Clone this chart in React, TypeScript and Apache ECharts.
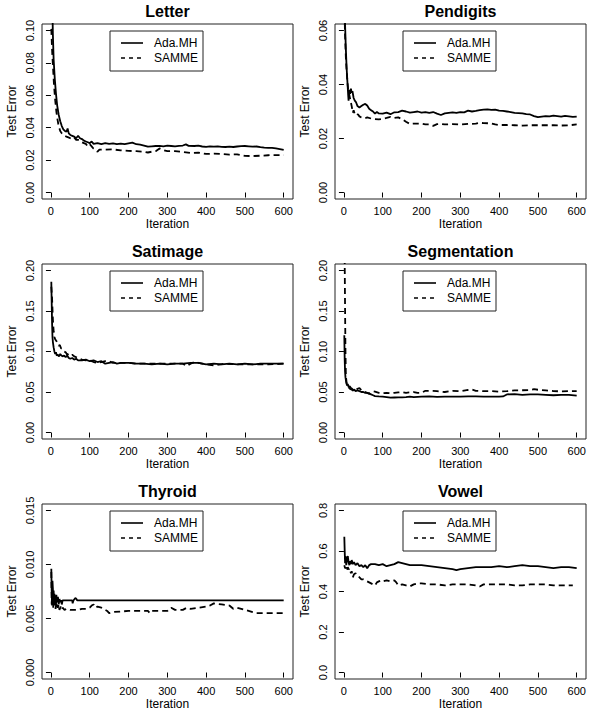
import React, { useEffect, useRef } from "react";
import * as echarts from "echarts";

// ---------- tick values ----------
const iterationTicks = [0, 100, 200, 300, 400, 500, 600];
const letterTicks = [0, 0.02, 0.04, 0.06, 0.08, 0.1];
const pendigitsTicks = [0, 0.02, 0.04, 0.06];
const satimageTicks = [0, 0.05, 0.1, 0.15, 0.2];
const segmentationTicks = [0, 0.05, 0.1, 0.15, 0.2];
const thyroidTicks = [0, 0.005, 0.01, 0.015];
const vowelTicks = [0, 0.2, 0.4, 0.6, 0.8];

const seriesNames = ["Ada.MH", "SAMME"];
const panelTitles = ["Letter", "Pendigits", "Satimage", "Segmentation", "Thyroid", "Vowel"];

// ---------- data: [iteration, test error] ----------
const letterAda: [number, number][] = [
  [1, 0.165], [3, 0.125], [5, 0.098], [7, 0.082], [10, 0.07], [13, 0.061], [16, 0.054], [20, 0.048],
  [24, 0.044], [28, 0.041], [32, 0.039], [36, 0.038], [40, 0.0375], [43, 0.0395], [46, 0.0365], [50, 0.0355],
  [55, 0.035], [60, 0.0345], [65, 0.0335], [70, 0.035], [75, 0.0335], [80, 0.033], [85, 0.032], [90, 0.0315],
  [95, 0.031], [100, 0.0305], [105, 0.0315], [110, 0.03], [120, 0.0305], [130, 0.0298], [140, 0.0305],
  [150, 0.03], [160, 0.0303], [170, 0.0298], [180, 0.0302], [190, 0.0298], [200, 0.0303], [210, 0.0308],
  [220, 0.0298], [230, 0.0295], [240, 0.029], [250, 0.0283], [260, 0.0285], [270, 0.0287], [280, 0.0288],
  [290, 0.0285], [300, 0.0289], [310, 0.0287], [320, 0.0285], [330, 0.0288], [340, 0.029], [348, 0.0297],
  [355, 0.0288], [370, 0.0287], [380, 0.0289], [390, 0.0284], [400, 0.0282], [410, 0.0285], [420, 0.0283],
  [430, 0.0285], [440, 0.0282], [450, 0.0281], [460, 0.0283], [470, 0.0281], [480, 0.0284], [490, 0.0286],
  [500, 0.0287], [510, 0.0285], [520, 0.0283], [530, 0.0284], [540, 0.028], [550, 0.0277], [560, 0.0275],
  [570, 0.0276], [580, 0.0272], [590, 0.0268], [600, 0.0263],
];
const letterSamme: [number, number][] = [
  [1, 0.101], [3, 0.088], [5, 0.079], [8, 0.066], [11, 0.057], [14, 0.05], [17, 0.045], [20, 0.041],
  [24, 0.038], [28, 0.0365], [32, 0.0355], [36, 0.035], [40, 0.0345], [45, 0.034], [50, 0.0335], [55, 0.033],
  [60, 0.034], [65, 0.0325], [70, 0.0325], [75, 0.032], [80, 0.031], [85, 0.0305], [90, 0.03], [95, 0.0285],
  [100, 0.0298], [105, 0.0285], [110, 0.027], [115, 0.0262], [120, 0.0252], [125, 0.0265], [140, 0.0265],
  [160, 0.0266], [180, 0.026], [200, 0.0257], [220, 0.0255], [240, 0.0252], [250, 0.0247], [260, 0.0252],
  [270, 0.0255], [280, 0.0272], [290, 0.0262], [300, 0.0255], [320, 0.0256], [340, 0.025], [360, 0.0244],
  [380, 0.0246], [400, 0.0238], [420, 0.024], [440, 0.0238], [460, 0.0234], [480, 0.0236], [500, 0.0226],
  [520, 0.0225], [540, 0.0227], [560, 0.023], [580, 0.0231], [600, 0.0231],
];

const pendigitsAda: [number, number][] = [
  [1, 0.075], [3, 0.062], [5, 0.053], [7, 0.046], [9, 0.041], [11, 0.036], [12, 0.034], [14, 0.038],
  [16, 0.0365], [18, 0.0385], [20, 0.037], [22, 0.0375], [25, 0.035], [28, 0.034], [31, 0.0335], [35, 0.032],
  [40, 0.0315], [45, 0.032], [50, 0.0325], [55, 0.0328], [60, 0.0322], [65, 0.031], [70, 0.0305], [75, 0.03],
  [80, 0.0292], [85, 0.0298], [90, 0.0293], [100, 0.0292], [110, 0.0296], [120, 0.029], [130, 0.0297],
  [140, 0.0298], [150, 0.0303], [160, 0.03], [170, 0.0296], [180, 0.0298], [190, 0.03], [200, 0.0296],
  [210, 0.0298], [220, 0.0295], [230, 0.0298], [240, 0.0292], [250, 0.0287], [260, 0.0293], [270, 0.0295],
  [280, 0.0297], [290, 0.0295], [300, 0.0298], [310, 0.0297], [320, 0.0303], [330, 0.03], [340, 0.0302],
  [350, 0.0305], [360, 0.0307], [370, 0.0308], [380, 0.0306], [390, 0.0307], [400, 0.0303], [410, 0.0302],
  [420, 0.03], [430, 0.0298], [440, 0.0295], [450, 0.0294], [460, 0.0293], [470, 0.029], [480, 0.0289],
  [490, 0.0283], [500, 0.0279], [510, 0.0281], [520, 0.0283], [530, 0.0282], [540, 0.0285], [550, 0.0283],
  [560, 0.0281], [570, 0.0284], [580, 0.0282], [590, 0.028], [600, 0.0281],
];
const pendigitsSamme: [number, number][] = [
  [1, 0.07], [3, 0.058], [5, 0.05], [7, 0.045], [9, 0.041], [11, 0.038], [14, 0.036], [17, 0.034],
  [20, 0.032], [23, 0.0295], [25, 0.0305], [28, 0.029], [32, 0.0285], [36, 0.029], [40, 0.0282], [45, 0.0278],
  [50, 0.0276], [55, 0.0275], [60, 0.0278], [70, 0.0274], [80, 0.0272], [90, 0.0271], [100, 0.0273],
  [110, 0.0276], [120, 0.028], [130, 0.0276], [140, 0.0278], [150, 0.0272], [160, 0.0262], [170, 0.0254],
  [180, 0.0255], [190, 0.0255], [200, 0.0255], [210, 0.0252], [220, 0.0252], [230, 0.0247], [240, 0.0253],
  [250, 0.0254], [260, 0.0252], [280, 0.0253], [300, 0.0252], [320, 0.0254], [340, 0.0255], [350, 0.0258],
  [360, 0.0257], [380, 0.0256], [390, 0.0252], [400, 0.025], [420, 0.025], [440, 0.0249], [460, 0.0248],
  [480, 0.0249], [500, 0.0249], [520, 0.0249], [540, 0.0249], [560, 0.0248], [580, 0.0249], [600, 0.0252],
];

const satimageAda: [number, number][] = [
  [1, 0.186], [2, 0.16], [3, 0.135], [4, 0.118], [5, 0.112], [7, 0.105], [9, 0.1], [11, 0.097], [13, 0.099],
  [15, 0.095], [18, 0.096], [21, 0.094], [24, 0.097], [27, 0.095], [30, 0.094], [34, 0.095], [38, 0.093],
  [42, 0.095], [46, 0.092], [50, 0.091], [55, 0.092], [60, 0.09], [65, 0.091], [70, 0.089], [80, 0.089],
  [90, 0.09], [100, 0.088], [110, 0.089], [120, 0.087], [130, 0.088], [140, 0.085], [150, 0.086],
  [160, 0.087], [170, 0.085], [180, 0.086], [200, 0.086], [220, 0.085], [240, 0.085], [260, 0.084],
  [280, 0.085], [300, 0.084], [320, 0.085], [340, 0.085], [360, 0.086], [380, 0.086], [400, 0.084],
  [420, 0.085], [440, 0.084], [460, 0.085], [480, 0.084], [500, 0.085], [520, 0.084], [540, 0.085],
  [560, 0.085], [580, 0.085], [600, 0.085],
];
const satimageSamme: [number, number][] = [
  [1, 0.18], [3, 0.165], [5, 0.14], [7, 0.125], [9, 0.118], [11, 0.115], [14, 0.113], [17, 0.11],
  [20, 0.107], [23, 0.108], [26, 0.104], [30, 0.103], [34, 0.1], [38, 0.099], [42, 0.096], [46, 0.097],
  [50, 0.095], [55, 0.096], [60, 0.094], [70, 0.092], [80, 0.09], [90, 0.089], [100, 0.089], [110, 0.087],
  [120, 0.086], [130, 0.087], [140, 0.088], [150, 0.088], [160, 0.086], [180, 0.086], [200, 0.086],
  [220, 0.085], [250, 0.085], [280, 0.085], [300, 0.085], [320, 0.085], [340, 0.085], [350, 0.082],
  [360, 0.085], [370, 0.087], [380, 0.086], [400, 0.084], [420, 0.083], [450, 0.085], [480, 0.084],
  [500, 0.084], [530, 0.084], [560, 0.084], [600, 0.085],
];

const segmentationAda: [number, number][] = [
  [1, 0.12], [2, 0.09], [3, 0.075], [4, 0.068], [6, 0.062], [8, 0.058], [10, 0.06], [12, 0.056],
  [15, 0.057], [18, 0.055], [21, 0.054], [24, 0.052], [27, 0.053], [30, 0.051], [35, 0.052], [40, 0.051],
  [45, 0.05], [50, 0.05], [55, 0.049], [60, 0.049], [65, 0.048], [70, 0.047], [75, 0.046], [80, 0.045],
  [90, 0.0445], [100, 0.0442], [110, 0.0438], [120, 0.043], [130, 0.0432], [140, 0.0433], [150, 0.0435],
  [160, 0.0438], [170, 0.0442], [180, 0.0438], [190, 0.044], [200, 0.0442], [220, 0.0445], [240, 0.044],
  [260, 0.0442], [280, 0.0443], [300, 0.0443], [320, 0.0446], [340, 0.0445], [360, 0.0443], [380, 0.0442],
  [400, 0.0443], [410, 0.0445], [420, 0.047], [440, 0.0475], [460, 0.0465], [480, 0.047], [500, 0.047],
  [520, 0.0465], [540, 0.046], [560, 0.0465], [580, 0.0465], [600, 0.0455],
];
const segmentationSamme: [number, number][] = [
  [1, 0.24], [2, 0.21], [3, 0.15], [4, 0.1], [5, 0.07], [7, 0.061], [9, 0.057], [12, 0.056], [15, 0.054],
  [20, 0.053], [25, 0.051], [30, 0.052], [35, 0.054], [40, 0.055], [45, 0.052], [50, 0.051], [55, 0.05],
  [60, 0.049], [65, 0.048], [70, 0.0495], [75, 0.051], [80, 0.0505], [90, 0.049], [100, 0.0485],
  [110, 0.049], [120, 0.0485], [130, 0.049], [140, 0.0495], [150, 0.05], [160, 0.049], [170, 0.0495],
  [180, 0.05], [190, 0.049], [200, 0.049], [210, 0.0515], [220, 0.0515], [240, 0.051], [260, 0.05],
  [280, 0.0515], [300, 0.051], [320, 0.0525], [330, 0.053], [340, 0.0515], [360, 0.051], [380, 0.0512],
  [400, 0.0505], [420, 0.051], [440, 0.052], [460, 0.0522], [480, 0.0525], [490, 0.0535], [500, 0.0528],
  [520, 0.052], [540, 0.0512], [560, 0.0508], [580, 0.051], [600, 0.0512],
];

const thyroidAda: [number, number][] = [
  [1, 0.0096], [2, 0.0075], [3, 0.0062], [4, 0.0085], [5, 0.0078], [6, 0.0062], [7, 0.0076], [8, 0.0065],
  [9, 0.0073], [10, 0.0062], [11, 0.0071], [12, 0.0067], [13, 0.0062], [14, 0.0072], [15, 0.0067],
  [16, 0.0065], [18, 0.007], [20, 0.0063], [22, 0.0068], [24, 0.0065], [26, 0.0067], [28, 0.0063],
  [30, 0.00667], [55, 0.00667], [56, 0.0064], [58, 0.00667], [63, 0.0069], [66, 0.0068], [68, 0.00667],
  [600, 0.00667],
];
const thyroidSamme: [number, number][] = [
  [1, 0.0093], [2, 0.0063], [3, 0.008], [4, 0.0065], [5, 0.0074], [6, 0.006], [7, 0.0069], [8, 0.0062],
  [10, 0.0066], [12, 0.0059], [14, 0.0065], [16, 0.0062], [18, 0.006], [20, 0.0063], [22, 0.0058],
  [25, 0.0061], [28, 0.0058], [30, 0.006], [35, 0.0058], [40, 0.0059], [50, 0.0058], [60, 0.0058],
  [70, 0.0058], [80, 0.0059], [90, 0.0059], [100, 0.006], [105, 0.0062], [110, 0.0063], [115, 0.006],
  [120, 0.0061], [130, 0.006], [140, 0.0058], [145, 0.0057], [150, 0.0055], [160, 0.0056], [200, 0.0057],
  [250, 0.0057], [255, 0.0055], [260, 0.0057], [300, 0.0057], [310, 0.006], [320, 0.0058], [340, 0.0058],
  [350, 0.006], [360, 0.0059], [400, 0.0061], [410, 0.0062], [420, 0.0064], [440, 0.0063], [460, 0.0062],
  [470, 0.0059], [480, 0.006], [500, 0.0058], [520, 0.0056], [530, 0.0055], [600, 0.0055],
];

const vowelAda: [number, number][] = [
  [1, 0.67], [2, 0.6], [3, 0.54], [4, 0.575], [5, 0.56], [6, 0.53], [8, 0.56], [10, 0.575], [12, 0.545],
  [14, 0.53], [16, 0.55], [18, 0.535], [20, 0.555], [23, 0.535], [26, 0.545], [30, 0.53], [35, 0.54],
  [40, 0.525], [45, 0.53], [50, 0.52], [55, 0.53], [60, 0.515], [65, 0.53], [70, 0.535], [80, 0.535],
  [90, 0.53], [100, 0.535], [110, 0.525], [120, 0.53], [130, 0.535], [140, 0.545], [150, 0.54],
  [160, 0.535], [170, 0.53], [180, 0.53], [200, 0.53], [220, 0.525], [240, 0.52], [260, 0.515],
  [280, 0.51], [290, 0.505], [300, 0.51], [320, 0.515], [340, 0.52], [360, 0.52], [380, 0.52],
  [400, 0.525], [420, 0.52], [440, 0.525], [460, 0.53], [480, 0.525], [500, 0.525], [520, 0.52],
  [540, 0.515], [560, 0.52], [580, 0.52], [600, 0.515],
];
const vowelSamme: [number, number][] = [
  [1, 0.53], [3, 0.515], [5, 0.52], [8, 0.5], [10, 0.52], [12, 0.51], [15, 0.515], [18, 0.49], [20, 0.5],
  [23, 0.47], [26, 0.485], [30, 0.49], [35, 0.475], [40, 0.47], [45, 0.46], [50, 0.46], [55, 0.455],
  [60, 0.45], [65, 0.445], [70, 0.44], [75, 0.435], [80, 0.43], [85, 0.445], [90, 0.45], [95, 0.455],
  [100, 0.45], [110, 0.455], [120, 0.45], [130, 0.455], [135, 0.445], [140, 0.43], [150, 0.435],
  [160, 0.43], [170, 0.425], [180, 0.435], [190, 0.44], [200, 0.44], [220, 0.435], [240, 0.435],
  [260, 0.43], [280, 0.435], [300, 0.435], [320, 0.435], [340, 0.43], [350, 0.425], [360, 0.435],
  [380, 0.435], [400, 0.435], [420, 0.435], [440, 0.43], [460, 0.43], [480, 0.435], [500, 0.435],
  [520, 0.435], [540, 0.43], [560, 0.43], [580, 0.43], [590, 0.43],
];

// ---------- panel assembly ----------
const adaData = [letterAda, pendigitsAda, satimageAda, segmentationAda, thyroidAda, vowelAda];
const sammeData = [letterSamme, pendigitsSamme, satimageSamme, segmentationSamme, thyroidSamme, vowelSamme];
const yTickSets = [letterTicks, pendigitsTicks, satimageTicks, segmentationTicks, thyroidTicks, vowelTicks];
const yDecimals = [2, 2, 2, 2, 3, 1];

// layout (pixels)
const GRID_LEFTS = [42, 335];
const GRID_TOPS = [24, 264, 504];
const GRID_W = 251;
const GRID_H = 175;
const FONT = '"Liberation Sans", Arial, Helvetica, sans-serif';
const INK = "#000";

function buildOption() {
  const grid: any[] = [];
  const xAxis: any[] = [];
  const yAxis: any[] = [];
  const series: any[] = [];
  const graphic: any[] = [];

  panelTitles.forEach((title, i) => {
    const gx = GRID_LEFTS[i % 2];
    const gy = GRID_TOPS[Math.floor(i / 2)];
    const ticks = yTickSets[i];
    const top = ticks[ticks.length - 1];
    const ext = top * 0.04;
    const dec = yDecimals[i];

    grid.push({
      left: gx,
      top: gy,
      width: GRID_W,
      height: GRID_H,
      show: true,
      borderColor: "#222",
      borderWidth: 1,
      backgroundColor: "transparent",
      containLabel: false,
      outerBoundsMode: "none",
    });

    xAxis.push({
      type: "value",
      gridIndex: i,
      min: -23,
      max: 624,
      axisLine: { show: false },
      axisTick: {
        show: true,
        length: 5,
        inside: false,
        customValues: iterationTicks,
        lineStyle: { color: INK, width: 1 },
      },
      axisLabel: {
        show: true,
        customValues: iterationTicks,
        fontSize: 11,
        fontFamily: FONT,
        color: INK,
        margin: 6,
        formatter: (v: number) => String(v),
      },
      splitLine: { show: false },
      name: "Iteration",
      nameLocation: "middle",
      nameGap: 19,
      nameTextStyle: { fontSize: 12, fontFamily: FONT, color: INK },
    });

    yAxis.push({
      type: "value",
      gridIndex: i,
      min: -ext,
      max: top + ext,
      axisLine: { show: false },
      axisTick: {
        show: true,
        length: 5,
        inside: false,
        customValues: ticks,
        lineStyle: { color: INK, width: 1 },
      },
      axisLabel: {
        show: true,
        customValues: ticks,
        rotate: 90,
        fontSize: 11,
        fontFamily: FONT,
        color: INK,
        margin: 7,
        formatter: (v: number) => v.toFixed(dec),
      },
      splitLine: { show: false },
      name: "Test Error",
      nameLocation: "middle",
      nameGap: 24,
      nameTextStyle: { fontSize: 12, fontFamily: FONT, color: INK },
    });

    series.push({
      type: "line",
      name: seriesNames[0],
      xAxisIndex: i,
      yAxisIndex: i,
      data: adaData[i],
      symbol: "none",
      showSymbol: false,
      clip: true,
      silent: true,
      lineStyle: { color: INK, width: 1.8, type: "solid" },
      itemStyle: { color: INK },
    });
    series.push({
      type: "line",
      name: seriesNames[1],
      xAxisIndex: i,
      yAxisIndex: i,
      data: sammeData[i],
      symbol: "none",
      showSymbol: false,
      clip: true,
      silent: true,
      lineStyle: { color: INK, width: 1.8, type: [6, 4] },
      itemStyle: { color: INK },
    });

    // panel title
    graphic.push({
      type: "text",
      x: gx + GRID_W / 2,
      y: gy - 13,
      style: {
        text: title,
        font: `bold 16px ${FONT}`,
        fill: INK,
        textAlign: "center",
        textVerticalAlign: "middle",
        align: "center",
        verticalAlign: "middle",
      },
    });

    // legend box
    graphic.push({
      type: "group",
      x: gx + 68,
      y: gy + 7,
      children: [
        {
          type: "rect",
          shape: { x: 0, y: 0, width: 93, height: 40 },
          style: { fill: "#fff", stroke: "#222", lineWidth: 1 },
        },
        {
          type: "line",
          shape: { x1: 11, y1: 12, x2: 33, y2: 12 },
          style: { stroke: INK, lineWidth: 1.6 },
        },
        {
          type: "line",
          shape: { x1: 11, y1: 27, x2: 33, y2: 27 },
          style: { stroke: INK, lineWidth: 1.6, lineDash: [4, 4] },
        },
        {
          type: "text",
          x: 44,
          y: 12,
          style: {
            text: seriesNames[0],
            font: `12px ${FONT}`,
            fill: INK,
            textVerticalAlign: "middle",
            verticalAlign: "middle",
          },
        },
        {
          type: "text",
          x: 44,
          y: 27,
          style: {
            text: seriesNames[1],
            font: `12px ${FONT}`,
            fill: INK,
            textVerticalAlign: "middle",
            verticalAlign: "middle",
          },
        },
      ],
    });
  });

  return {
    animation: false,
    backgroundColor: "#fff",
    grid,
    xAxis,
    yAxis,
    series,
    graphic,
  };
}

export default function App() {
  const ref = useRef<HTMLDivElement>(null);

  useEffect(() => {
    if (!ref.current) return;
    const chart = echarts.init(ref.current, null, { renderer: "svg" });
    chart.setOption(buildOption() as any);
    return () => {
      chart.dispose();
    };
  }, []);

  return (
    <div
      ref={ref}
      style={{
        position: "fixed",
        left: 0,
        top: 0,
        width: 594,
        height: 716,
        background: "#fff",
      }}
    />
  );
}
